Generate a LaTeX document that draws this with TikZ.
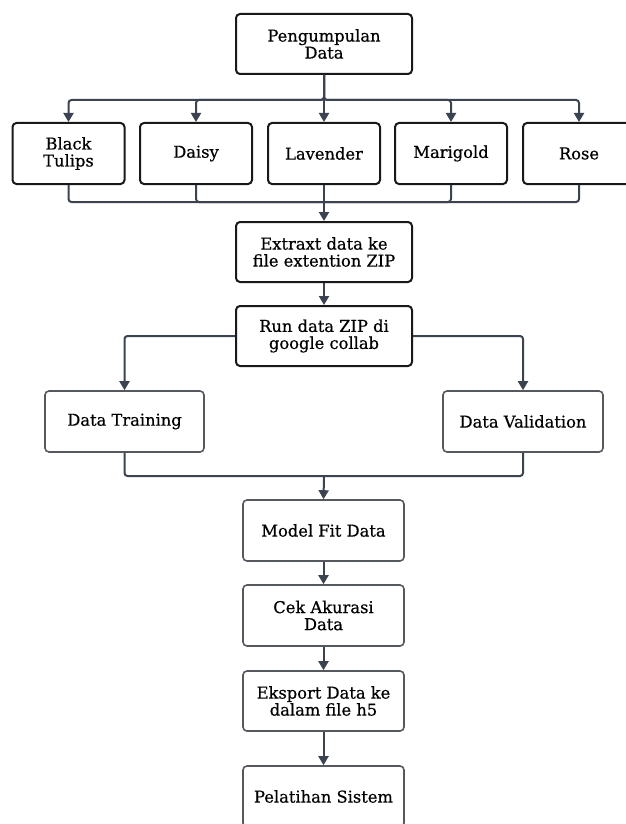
\documentclass[tikz,border=0pt]{standalone}
\usepackage{fontspec}
\setmainfont{DejaVu Serif}
\newfontfamily\boxfont[FakeBold=0.5]{DejaVu Serif}
\usepackage{tikz}
\usetikzlibrary{arrows.meta}
\definecolor{linkcol}{HTML}{3B4350}
\definecolor{edgecol}{HTML}{55585D}

\begin{document}
\begin{tikzpicture}[x=1pt,y=-1pt,font=\boxfont\fontsize{16.3}{17}\selectfont,
  box/.style={draw=black!90,line width=2pt,rounded corners=4pt,align=center,inner sep=0pt},
  gbox/.style={draw=edgecol,line width=1.6pt,rounded corners=4pt,align=center,inner sep=0pt},
  link/.style={draw=linkcol,line width=2pt,rounded corners=3pt},
  arr/.style={link,-{Triangle[length=9pt,width=10pt]}}]
\useasboundingbox (0,0) rectangle (626,824);
% top
\node[box,minimum width=176pt,minimum height=60pt] (pd) at (324,44) {Pengumpulan\\Data};
% flower classes
\node[box,minimum width=112pt,minimum height=61pt] (bt) at (68.5,153.5) {Black\\Tulips};
\node[box,minimum width=112pt,minimum height=61pt] (ds) at (196,153.5) {Daisy};
\node[box,minimum width=112pt,minimum height=61pt] (lv) at (324,153.5) {Lavender};
\node[box,minimum width=112pt,minimum height=61pt] (mg) at (451,153.5) {Marigold};
\node[box,minimum width=112pt,minimum height=61pt] (rs) at (579,153.5) {Rose};
% preparation
\node[box,minimum width=176pt,minimum height=60pt] (ext) at (324,252) {Extraxt data ke\\file extention ZIP};
\node[box,minimum width=176pt,minimum height=60pt] (run) at (324,336) {Run data ZIP di\\google collab};
\node[gbox,minimum width=159pt,minimum height=61pt] (dt) at (124.5,421.5) {Data Training};
\node[gbox,minimum width=160pt,minimum height=61pt] (dv) at (523,421.5) {Data Validation};
% model
\node[gbox,minimum width=161pt,minimum height=61pt] (mf) at (323.5,530.5) {Model Fit Data};
\node[gbox,minimum width=161pt,minimum height=61pt] (ca) at (323.5,615.5) {Cek Akurasi\\Data};
\node[gbox,minimum width=161pt,minimum height=60pt] (ed) at (323.5,701) {Eksport Data ke\\dalam file h5};
\node[gbox,minimum width=161pt,minimum height=61pt] (ps) at (323.5,796.5) {Pelatihan Sistem};
\coordinate (j1) at (324,202);
\coordinate (j2) at (324,476);
% connectors
\foreach \n in {bt,ds,mg,rs}
  \draw[arr] (pd.south) -- ++(0,25) -| (\n.north);
\draw[arr] (pd.south) -- (lv.north);
\foreach \n in {bt,ds,mg,rs}
  \draw[link] (\n.south) |- (j1);
\draw[arr] (lv.south) -- (ext.north);
\draw[arr] (ext.south) -- (run.north);
\draw[arr] (run.west) -| (dt.north);
\draw[arr] (run.east) -| (dv.north);
\draw[link] (dt.south) |- (j2);
\draw[link] (dv.south) |- (j2);
\draw[arr] (j2) -- (mf.north);
\draw[arr] (mf.south) -- (ca.north);
\draw[arr] (ca.south) -- (ed.north);
\draw[arr] (ed.south) -- (ps.north);
\end{tikzpicture}
\end{document}
